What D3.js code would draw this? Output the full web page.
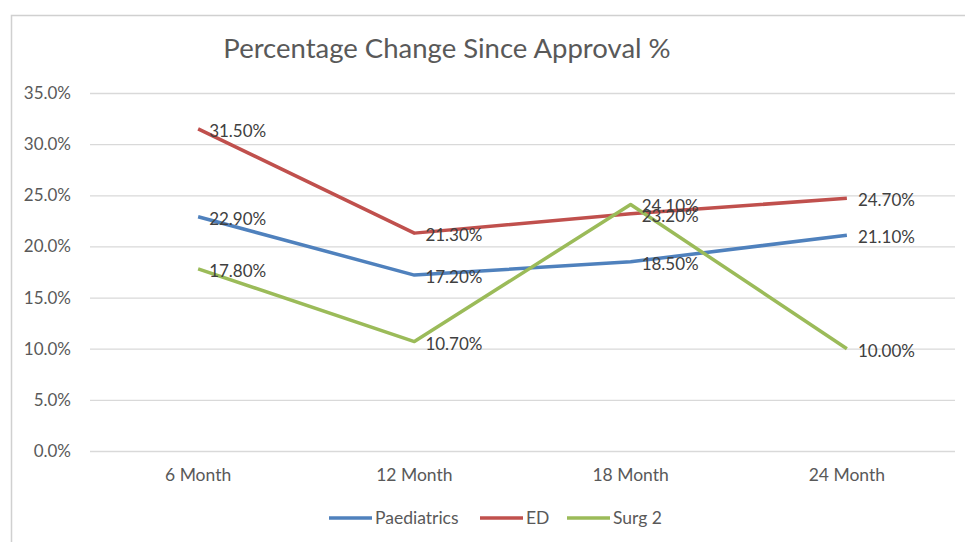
<!DOCTYPE html>
<html>
<head>
<meta charset="utf-8">
<script src="https://cdn.jsdelivr.net/npm/d3@7"></script>
<style>
  body { margin: 0; background: #fff; }
  svg { display: block; font-family: Lato, "Open Sans", sans-serif; }
</style>
</head>
<body>
<svg id="chart"></svg>
<script>
const categories = ['6 Month', '12 Month', '18 Month', '24 Month']
const paediatrics = [22.9, 17.2, 18.5, 21.1]
const ed = [31.5, 21.3, 23.2, 24.7]
const surg2 = [17.8, 10.7, 24.1, 10.0]
const yTicks = [0, 5, 10, 15, 20, 25, 30, 35]

const series = [
  { name: 'Paediatrics', values: paediatrics, color: '#4F81BD' },
  { name: 'ED', values: ed, color: '#C0504D' },
  { name: 'Surg 2', values: surg2, color: '#9BBB59' }
]

const width = 965, height = 542
const margin = { top: 93, right: 10, bottom: 91, left: 90 }
const w = width - margin.left - margin.right
const h = height - margin.top - margin.bottom

const svg = d3.select('#chart').attr('width', width).attr('height', height)

// outer frame
svg.append('rect')
  .attr('x', 11.5).attr('y', 15.5)
  .attr('width', 965).attr('height', 540)
  .attr('fill', 'none').attr('stroke', '#d0d0d0').attr('stroke-width', 1.5)

svg.append('text')
  .attr('x', 447).attr('y', 58)
  .attr('text-anchor', 'middle')
  .attr('font-size', 27.5).attr('fill', '#595959')
  .text('Percentage Change Since Approval %')

const g = svg.append('g').attr('transform', `translate(${margin.left},${margin.top})`)

const x = d3.scaleBand().domain(categories).range([0, w])
const y = d3.scaleLinear().domain([0, 35]).range([h, 0])

// gridlines + y labels
g.append('g')
  .call(d3.axisLeft(y).tickValues(yTicks).tickSize(-w).tickPadding(19).tickFormat(d => d.toFixed(1) + '%'))
  .call(a => a.select('.domain').remove())
  .call(a => a.selectAll('line').attr('stroke', '#d9d9d9').attr('stroke-width', 1.3))
  .call(a => a.selectAll('text').attr('font-size', 17).attr('fill', '#595959').attr('font-family', 'Lato, sans-serif'))

g.append('g')
  .attr('transform', `translate(0,${h})`)
  .call(d3.axisBottom(x).tickSize(0).tickPadding(18))
  .call(a => a.select('.domain').remove())
  .call(a => a.selectAll('text').attr('font-size', 17.5).attr('fill', '#595959').attr('font-family', 'Lato, sans-serif'))

const cx = d => x(d) + x.bandwidth() / 2
const line = d3.line().x((d, i) => cx(categories[i])).y(d => y(d))

series.forEach(s => {
  g.append('path')
    .datum(s.values)
    .attr('d', line)
    .attr('fill', 'none')
    .attr('stroke', s.color)
    .attr('stroke-width', 3.5)
    .attr('stroke-linejoin', 'round')
})

series.forEach(s => {
  g.selectAll(null)
    .data(s.values)
    .enter().append('text')
    .attr('x', (d, i) => cx(categories[i]) + 11)
    .attr('y', d => y(d) + 8)
    .attr('font-size', 17)
    .attr('fill', '#404040')
    .text(d => d.toFixed(2) + '%')
})

// legend
const legendPos = [329, 480, 567]
const legend = svg.append('g').attr('transform', 'translate(0,518)')
series.forEach((s, i) => {
  const lg = legend.append('g').attr('transform', `translate(${legendPos[i]},0)`)
  lg.append('line').attr('x1', 0).attr('x2', 43).attr('stroke', s.color).attr('stroke-width', 3.5)
  lg.append('text').attr('x', 46).attr('y', 6).attr('font-size', 17.5).attr('fill', '#595959').text(s.name)
})
</script>
</body>
</html>
